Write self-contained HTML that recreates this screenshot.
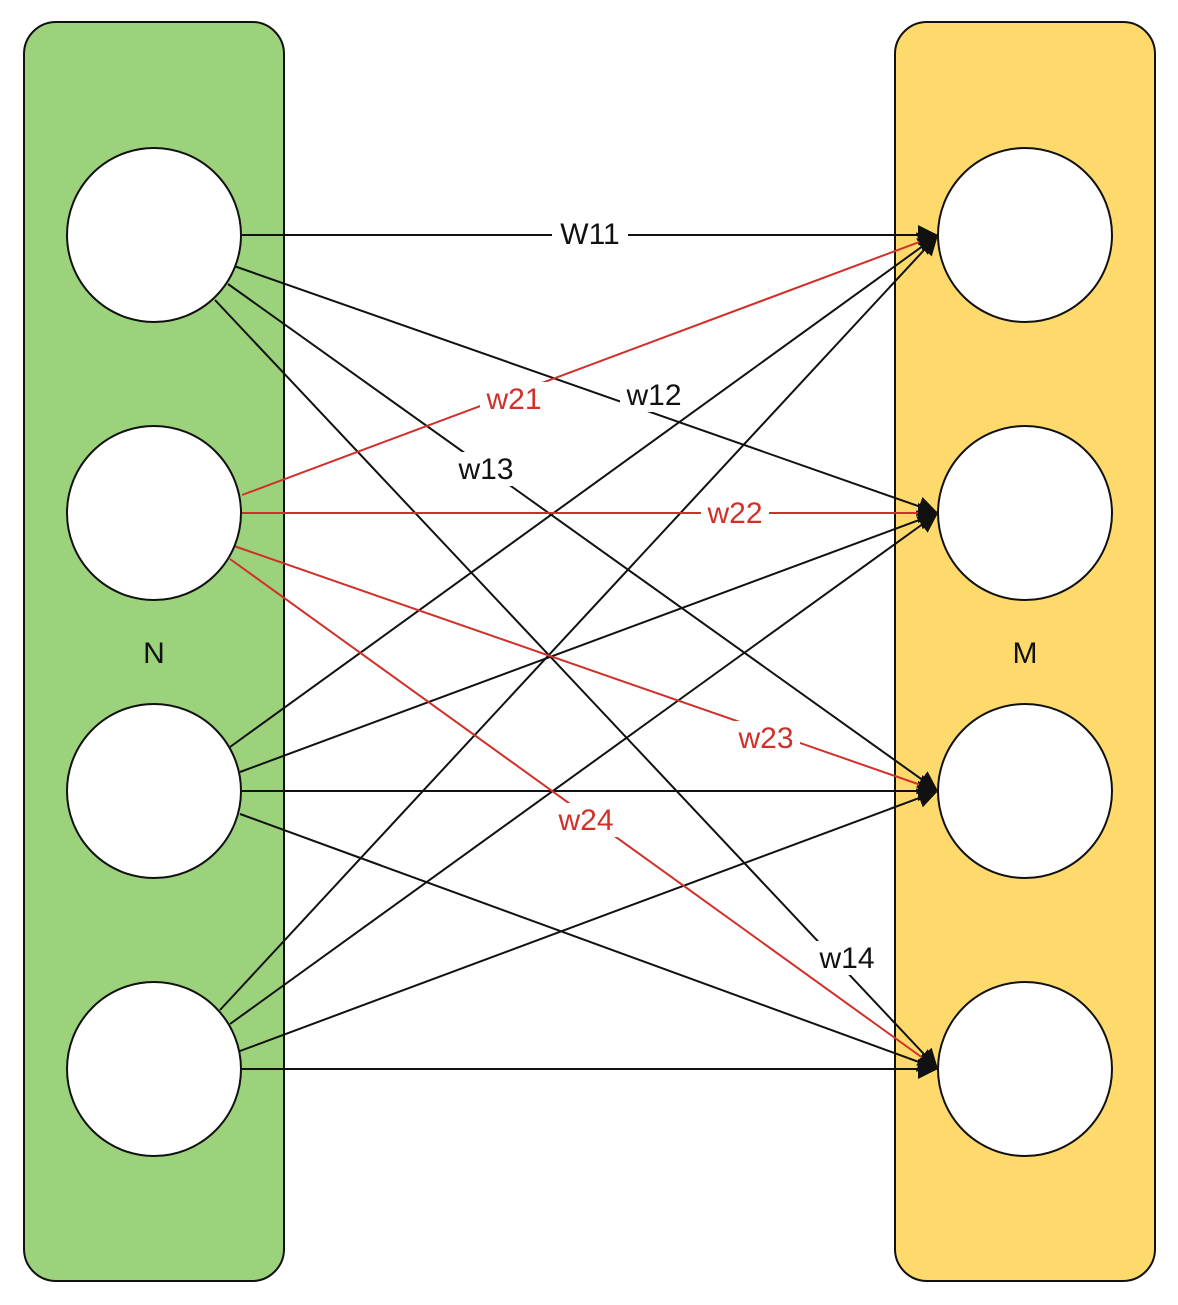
<!DOCTYPE html>
<html><head><style>body{margin:0;background:#fff}svg{display:block}</style></head><body>
<svg width="1178" height="1305" viewBox="0 0 1178 1305" xmlns="http://www.w3.org/2000/svg" font-family="Liberation Sans, sans-serif">
<defs><marker id="a" viewBox="0 0 10 10" refX="10" refY="5" markerWidth="20" markerHeight="20" markerUnits="userSpaceOnUse" orient="auto"><path d="M0,0 L10,5 L0,10 z" fill="#111"/></marker></defs>
<rect x="24" y="22" width="260" height="1259" rx="32" fill="#9bd27b" stroke="#111" stroke-width="2"/>
<rect x="895" y="22" width="260" height="1259" rx="32" fill="#fed96c" stroke="#111" stroke-width="2"/>
<g stroke-width="2" marker-end="url(#a)">
<g stroke="#111">
<line x1="242" y1="235" x2="938" y2="235"/>
<line x1="234" y1="266" x2="938" y2="513"/>
<line x1="228" y1="284" x2="938" y2="791"/>
<line x1="215" y1="300" x2="938" y2="1069"/>
<line x1="230" y1="747" x2="938" y2="235"/>
<line x1="240" y1="772" x2="938" y2="513"/>
<line x1="242" y1="791" x2="938" y2="791"/>
<line x1="240" y1="814" x2="938" y2="1069"/>
<line x1="220" y1="1010" x2="938" y2="235"/>
<line x1="230" y1="1024" x2="938" y2="513"/>
<line x1="240" y1="1051" x2="938" y2="791"/>
<line x1="242" y1="1069" x2="938" y2="1069"/>
</g>
<g stroke="#d0302a">
<line x1="242" y1="495" x2="938" y2="235"/>
<line x1="242" y1="513" x2="938" y2="513"/>
<line x1="234" y1="546" x2="938" y2="791"/>
<line x1="230" y1="559" x2="938" y2="1069"/>
</g>
</g>
<g fill="#fff" stroke="#111" stroke-width="2">
<circle cx="154" cy="235" r="87"/><circle cx="154" cy="513" r="87"/><circle cx="154" cy="791" r="87"/><circle cx="154" cy="1069" r="87"/>
<circle cx="1025" cy="235" r="87"/><circle cx="1025" cy="513" r="87"/><circle cx="1025" cy="791" r="87"/><circle cx="1025" cy="1069" r="87"/>
</g>
<g font-size="30" text-anchor="middle">
<rect x="552" y="216" width="76" height="34" fill="#fff"/><text x="590" y="244" fill="#111">W11</text>
<rect x="620" y="378" width="68" height="34" fill="#fff"/><text x="654" y="405" fill="#111">w12</text>
<rect x="452" y="452" width="68" height="34" fill="#fff"/><text x="486" y="479" fill="#111">w13</text>
<rect x="813" y="941" width="68" height="34" fill="#fff"/><text x="847" y="968" fill="#111">w14</text>
<rect x="480" y="382" width="68" height="34" fill="#fff"/><text x="514" y="409" fill="#d0302a">w21</text>
<rect x="701" y="496" width="68" height="34" fill="#fff"/><text x="735" y="523" fill="#d0302a">w22</text>
<rect x="732" y="721" width="68" height="34" fill="#fff"/><text x="766" y="748" fill="#d0302a">w23</text>
<rect x="552" y="803" width="68" height="34" fill="#fff"/><text x="586" y="830" fill="#d0302a">w24</text>
<text x="154" y="663" fill="#111">N</text>
<text x="1025" y="663" fill="#111">M</text>
</g>
</svg>
</body></html>
